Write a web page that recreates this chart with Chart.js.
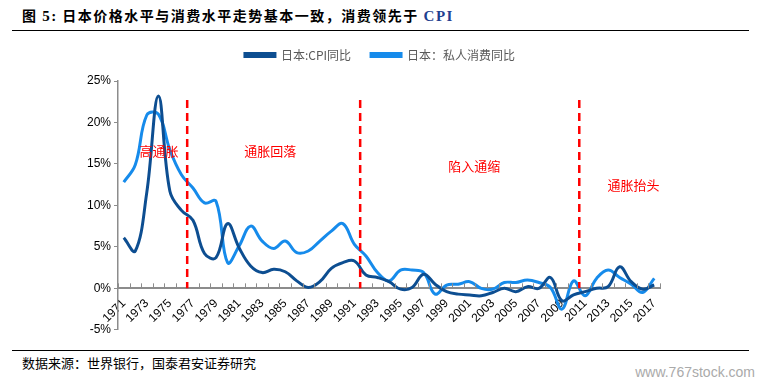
<!DOCTYPE html>
<html>
<head>
<meta charset="utf-8">
<script src="https://cdn.jsdelivr.net/npm/chart.js@4.4.1/dist/chart.umd.min.js"></script>
<style>
  body { margin: 0; width: 759px; height: 385px; background: #fff; position: relative; overflow: hidden; font-family: "Noto Sans CJK SC", sans-serif; }
  #title { position: absolute; left: 22px; top: 5px; font-size: 14px; line-height: 20px; font-weight: bold; color: #000; letter-spacing: 1.5px; white-space: nowrap; }
  #title .en { font-family: "Liberation Serif", serif; font-size: 15px; }
  #title .cpi { color: #1f3f8f; }
  .rule { position: absolute; left: 12px; width: 737px; height: 0; border-top: 1.5px solid #000; }
  #source { position: absolute; left: 22px; top: 354px; font-size: 13px; line-height: 18px; color: #000; white-space: nowrap; }
  #wm { position: absolute; right: 4px; top: 364px; font-size: 14px; color: #aaa; font-family: "Liberation Sans", sans-serif; }
  #box { position: absolute; left: 0; top: 26px; width: 759px; height: 314px; }
</style>
</head>
<body>
<div id="title">图 <span class="en">5:</span> 日本价格水平与消费水平走势基本一致，消费领先于 <span class="en cpi">CPI</span></div>
<div class="rule" style="top:30px"></div>
<div id="box"><canvas id="chart"></canvas></div>
<div class="rule" style="top:350px"></div>
<div id="source">数据来源：世界银行，国泰君安证券研究</div>
<div id="wm">www.767stock.com</div>
<script>
// 年份
const years = [];
for (let y = 1971; y <= 2017; y++) years.push(String(y));

// 日本:CPI同比 (%)
const cpi = [6.1, 4.5, 11.6, 23.2, 11.7, 9.4, 8.2, 4.2, 3.7, 7.8,
             4.9, 2.7, 1.9, 2.3, 2.0, 0.9, 0.1, 0.8, 2.4, 3.1,
             3.3, 1.6, 1.3, 0.8, -0.1, 0.1, 1.7, 0.5, -0.4, -0.7,
             -0.8, -0.9, -0.5, 0.0, -0.4, 0.2, 0.0, 1.3, -1.5, -0.8,
             -0.4, 0.0, 0.2, 2.6, 0.8, -0.1, 0.4];

// 日本：私人消费同比 (%)
const consumption = [12.8, 14.9, 20.9, 21.0, 16.7, 13.7, 12.1, 10.3, 10.5, 3.1,
                     5.1, 7.5, 5.7, 4.8, 5.7, 4.3, 4.5, 5.7, 6.9, 7.8,
                     5.3, 3.9, 1.9, 0.9, 2.2, 2.2, 1.9, -0.7, 0.4, 0.5,
                     0.8, 0.0, -0.1, 0.7, 0.7, 1.0, 0.7, 0.1, -2.5, 0.9,
                     -0.9, 1.2, 2.2, 1.3, 0.5, -0.5, 1.2];

// 阶段分界（位于两个年份之间的类目索引）与阶段标注
const dividers = [5.5, 20.5, 39.5];
const phaseLabels = ['高通胀', '通胀回落', '陷入通缩', '通胀抬头'];
const phaseX = [3.05, 12.7, 30.4, 44.2];
const phaseY = [16.6, 16.6, 14.8, 12.5];

const phasePlugin = {
    id: 'phases',
    afterLayout(chart) {
        // 图例整体居中于页面，并上移
        const lg = chart.legend;
        lg.left += 50; lg.right += 50;
        lg.top -= 10; lg.bottom -= 10;
    },
    afterDatasetsDraw(chart) {
        const ctx = chart.ctx;
        const x = chart.scales.x, y = chart.scales.y;
        ctx.save();
        // 向上的刻度线
        ctx.strokeStyle = '#8c8c8c';
        ctx.lineWidth = 1;
        const y0 = y.getPixelForValue(0);
        for (let i = 0; i <= years.length; i++) {
            const px = Math.round(x.getPixelForValue(i - 0.5)) + 0.5;
            ctx.beginPath();
            ctx.moveTo(px, y0);
            ctx.lineTo(px, y0 - 5);
            ctx.stroke();
        }
        // 红色虚线
        ctx.strokeStyle = '#ff0000';
        ctx.lineWidth = 2.5;
        ctx.setLineDash([8, 5]);
        dividers.forEach(d => {
            const px = x.getPixelForValue(d);
            ctx.beginPath();
            ctx.moveTo(px, y.getPixelForValue(22.7));
            ctx.lineTo(px, y0);
            ctx.stroke();
        });
        ctx.setLineDash([]);
        ctx.fillStyle = '#ff0000';
        ctx.font = '13px "Noto Sans CJK SC"';
        ctx.textAlign = 'center';
        ctx.textBaseline = 'middle';
        phaseLabels.forEach((t, i) => {
            ctx.fillText(t, x.getPixelForValue(phaseX[i]), y.getPixelForValue(phaseY[i]));
        });
        ctx.restore();
    }
};

const ctx = document.getElementById('chart');
new Chart(ctx, {
    type: 'line',
    data: {
        labels: years,
        datasets: [{
            label: '日本:CPI同比',
            data: cpi,
            borderColor: '#0d4e91',
            backgroundColor: '#0d4e91',
            borderWidth: 3,
            pointRadius: 0,
            tension: 0.4
        }, {
            label: '日本：私人消费同比',
            data: consumption,
            borderColor: '#168beb',
            backgroundColor: '#168beb',
            borderWidth: 3,
            pointRadius: 0,
            tension: 0.4
        }]
    },
    options: {
        responsive: true,
        maintainAspectRatio: false,
        animation: false,
        layout: { padding: { left: 0, right: 99, top: 13, bottom: 1 } },
        plugins: {
            legend: {
                position: 'top',
                labels: {
                    boxWidth: 30,
                    boxHeight: 3,
                    color: '#595959',
                    font: { family: '"Noto Sans CJK SC"', size: 12 },
                    padding: 20
                }
            },
            tooltip: { enabled: false }
        },
        scales: {
            x: {
                position: { y: 0 },
                offset: true,
                grid: { display: false },
                border: { color: '#8c8c8c', width: 2 },
                ticks: {
                    autoSkip: false,
                    maxRotation: 45,
                    minRotation: 45,
                    padding: 0,
                    color: '#000',
                    font: { family: 'Liberation Sans', size: 12 },
                    callback: function (v, i) { return i % 2 === 0 ? years[i] : ''; }
                }
            },
            y: {
                min: -5,
                max: 25,
                afterFit(scale) { scale.width = 118; },
                grid: { drawOnChartArea: false, tickLength: 4, color: '#8c8c8c' },
                border: { color: '#8c8c8c', width: 1.5 },
                ticks: {
                    stepSize: 5,
                    color: '#000',
                    font: { family: 'Liberation Sans', size: 12 },
                    callback: v => v + '%'
                }
            }
        }
    },
    plugins: [phasePlugin]
});
</script>
</body>
</html>
